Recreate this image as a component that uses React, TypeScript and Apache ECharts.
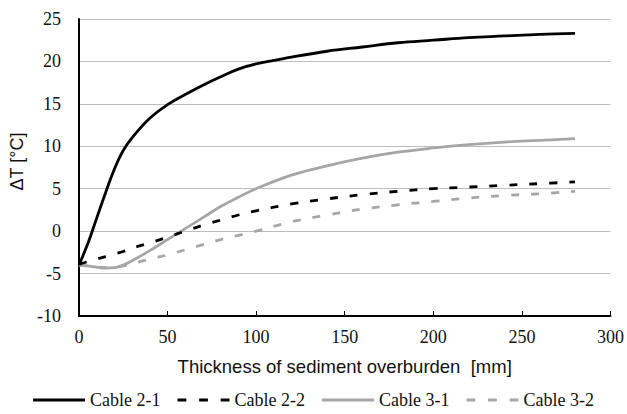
import React, { useEffect, useRef } from "react";
import * as echarts from "echarts";

const thickness = [0, 5, 10, 15, 20, 25, 30, 40, 50, 60, 70, 80, 90, 100, 120, 140, 160, 180, 200, 220, 240, 260, 280];
const cable21 = [-4, -1.5, 1.5, 4.5, 7.3, 9.5, 11.0, 13.3, 14.9, 16.1, 17.2, 18.2, 19.1, 19.7, 20.5, 21.2, 21.7, 22.2, 22.5, 22.8, 23.0, 23.2, 23.3];
const cable22 = [-3.9, -3.6, -3.3, -3.0, -2.7, -2.4, -2.0, -1.4, -0.7, 0.0, 0.7, 1.3, 1.9, 2.4, 3.2, 3.8, 4.3, 4.7, 5.0, 5.2, 5.4, 5.6, 5.8];
const cable31 = [-4.0, -4.1, -4.25, -4.35, -4.3, -4.0, -3.5, -2.3, -1.0, 0.3, 1.6, 2.9, 4.0, 5.0, 6.6, 7.7, 8.6, 9.3, 9.8, 10.2, 10.5, 10.7, 10.9];
const cable32 = [-4.0, -4.1, -4.2, -4.3, -4.25, -4.1, -3.85, -3.3, -2.8, -2.2, -1.6, -1.0, -0.5, 0.0, 1.1, 1.9, 2.6, 3.1, 3.5, 3.9, 4.2, 4.4, 4.7];
const seriesNames = ["Cable 2-1", "Cable 2-2", "Cable 3-1", "Cable 3-2"];
const xTitle = "Thickness of sediment overburden  [mm]";
const yTitle = "ΔT [°C]";

const pair = (ys: number[]) => thickness.map((x, i) => [x, ys[i]]);

const solidIcon = "path://M0 0h54v3H0z";
const dashIcon = "path://M0 0h9v3H0zM22 0h9v3h-9zM44 0h9v3h-9z";

export default function App() {
  const ref = useRef<HTMLDivElement>(null);
  useEffect(() => {
    if (!ref.current) return;
    const chart = echarts.init(ref.current, undefined, { renderer: "svg" });
    const serif = "Liberation Serif";
    const sans = "Liberation Sans";
    const mk = (name: string, ys: number[], color: string, dashed: boolean, z: number) => ({
      name,
      type: "line",
      data: pair(ys),
      smooth: 0.4,
      symbol: "none",
      z,
      lineStyle: { color, width: 2.8, type: dashed ? [8, 12] : "solid" },
      itemStyle: { color },
    });
    chart.setOption({
      animation: false,
      backgroundColor: "#ffffff",
      grid: { left: 73, right: 16, top: 19, bottom: 98 },
      xAxis: {
        type: "value",
        min: 0,
        max: 300,
        interval: 50,
        name: xTitle,
        nameLocation: "middle",
        nameGap: 41,
        nameTextStyle: { fontFamily: sans, fontSize: 18.5, color: "#111" },
        axisLine: { show: true, onZero: false, lineStyle: { color: "#000", width: 2 } },
        axisTick: { show: true, inside: true, length: 5, lineStyle: { color: "#000", width: 1 } },
        axisLabel: { fontFamily: serif, fontSize: 18, color: "#111", margin: 12 },
        splitLine: { show: false },
      },
      yAxis: {
        type: "value",
        min: -10,
        max: 25,
        interval: 5,
        name: yTitle,
        nameLocation: "middle",
        nameRotate: 90,
        nameGap: 44,
        nameTextStyle: { fontFamily: sans, fontSize: 18, color: "#111", padding: [0, 0, 0, 12] },
        axisLine: { show: true, onZero: false, lineStyle: { color: "#000", width: 2 } },
        axisTick: { show: false },
        axisLabel: { fontFamily: serif, fontSize: 18, color: "#111", margin: 18 },
        splitLine: { show: true, lineStyle: { color: "#bdbdbd", width: 1.2 } },
      },
      legend: {
        data: [
          { name: seriesNames[0], icon: solidIcon },
          { name: seriesNames[1], icon: dashIcon },
          { name: seriesNames[2], icon: solidIcon },
          { name: seriesNames[3], icon: dashIcon },
        ],
        left: "center",
        top: 386,
        itemWidth: 52,
        itemHeight: 3,
        itemGap: 17,
        textStyle: { fontFamily: serif, fontSize: 18, color: "#111" },
      },
      series: [
        mk(seriesNames[0], cable21, "#000000", false, 4),
        mk(seriesNames[1], cable22, "#000000", true, 3),
        mk(seriesNames[2], cable31, "#a6a6a6", false, 2),
        mk(seriesNames[3], cable32, "#a6a6a6", true, 1),
      ],
    });
    return () => chart.dispose();
  }, []);
  return <div ref={ref} style={{ position: "fixed", left: 0, top: 0, width: 627, height: 414 }} />;
}
